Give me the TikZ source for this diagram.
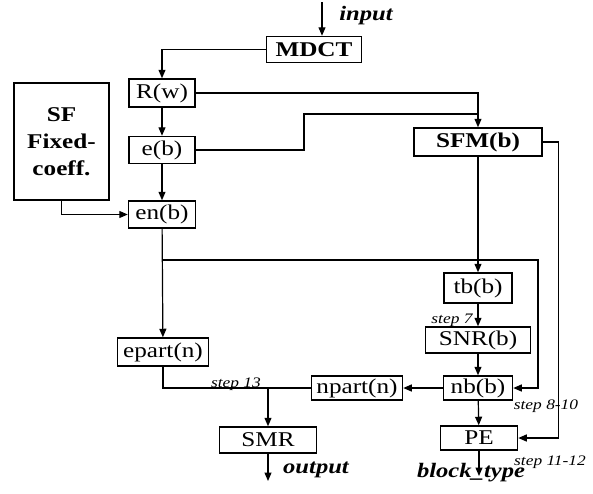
\documentclass[tikz,border=0pt]{standalone}
\usepackage{fontspec}
\setmainfont{Liberation Serif}[FakeStretch=1.2]
\usetikzlibrary{arrows.meta}
\begin{document}
\begin{tikzpicture}[x=1pt, y=-1pt,
  blk/.style={draw, line width=1.5pt, inner sep=0pt, minimum height=26pt, font=\fontsize{21}{27}\selectfont},
  arr/.style={-{Triangle[length=8.5pt,width=7pt]}},
  stepnote/.style={inner sep=0pt, font=\fontsize{14.5}{16}\selectfont\itshape},
  io/.style={inner sep=0pt, font=\fontsize{20.5}{22}\selectfont\bfseries\itshape},
  line width=1.2pt]
\useasboundingbox (0,0) rectangle (593,493);
% boxes
\node[blk, minimum width=95pt, font=\fontsize{21}{27}\selectfont\bfseries] (mdct) at (314,49.5) {MDCT};
\node[blk, minimum width=66pt, minimum height=28pt] (rw) at (162,93) {R(w)};
\node[blk, minimum width=66pt, minimum height=27pt] (eb) at (162,150) {e(b)};
\node[blk, minimum width=67pt, minimum height=27pt] (enb) at (162,214.5) {en(b)};
\node[blk, minimum width=95pt, minimum height=117pt, align=center, font=\fontsize{21}{27}\selectfont\bfseries] (sf) at (61.5,141.5) {SF\\Fixed-\\coeff.};
\node[blk, minimum width=128pt, minimum height=28pt, font=\fontsize{21}{27}\selectfont\bfseries] (sfm) at (478,142) {SFM(b)};
\node[blk, minimum width=68pt, minimum height=30pt] (tbb) at (478,288) {tb(b)};
\node[blk, minimum width=105pt] (snr) at (478,340) {SNR(b)};
\node[blk, minimum width=69pt, minimum height=24pt] (nbb) at (478,388) {nb(b)};
\node[blk, minimum width=91pt, minimum height=24pt] (npart) at (357,388) {npart(n)};
\node[blk, minimum width=91pt, minimum height=28pt] (epart) at (163,352) {epart(n)};
\node[blk, minimum width=97pt] (smr) at (268,440) {SMR};
\node[blk, minimum width=77pt, minimum height=24pt] (pe) at (479,438) {PE};
% free ends
\coordinate (in) at (322,2);
\coordinate (out) at (268,481);
\coordinate (bt) at (479,476);
\coordinate (ejoin) at (304,114);
\coordinate (fb) at (538,260);
% connectors
\draw[arr] (in) -- (in |- mdct.north);
\draw[arr] (mdct.west) -| (rw.north);
\draw[arr] (rw) -- (eb);
\draw[arr] (eb) -- (enb);
\draw[arr] (sf.south) |- (enb.west);
\draw[arr] (rw.east) -| (sfm.north);
\draw (eb.east) -| (ejoin) -- (ejoin -| sfm.north);
\draw[arr] (sfm.east) -- ++(16,0) |- (pe.east);
\draw[arr] (sfm) -- (tbb);
\draw[arr] (tbb) -- (snr);
\draw[arr] (snr) -- (nbb);
\draw[arr] (nbb) -- (pe);
\draw[arr] (pe.south) -- (pe.south |- bt);
\draw[arr] (enb) -- (epart);
\draw[arr] (enb.south |- fb) -- (fb) |- (nbb.east);
\draw[arr] (nbb) -- (npart);
\draw (epart.south) |- (npart.west);
\draw[arr] (smr.north |- npart.west) -- (smr.north);
\draw[arr] (smr.south) -- (out);
% labels
\node[io] (lin) at (366,16) {input};
\node[io] (lout) at (316,470) {output};
\node[io] (lbt) at (471,473) {block\_type};
\node[stepnote] (s7) at (452,320) {step 7};
\node[stepnote] (s8) at (546,406) {step 8-10};
\node[stepnote] (s11) at (550,462) {step 11-12};
\node[stepnote] (s13) at (236,384) {step 13};
\end{tikzpicture}
\end{document}
